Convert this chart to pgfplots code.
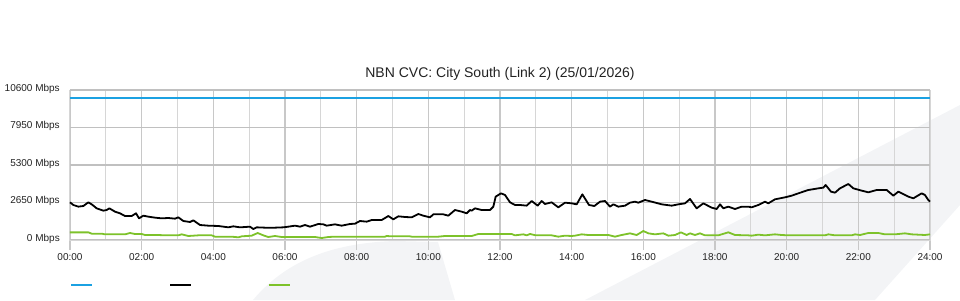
\documentclass[border=0pt]{standalone}
\usepackage{fontspec}
\setmainfont{Liberation Sans}
\usepackage{pgfplots}
\pgfplotsset{compat=1.18}
\definecolor{cblue}{RGB}{27,161,226}
\definecolor{cgreen}{RGB}{125,194,42}
\definecolor{wm}{RGB}{243,244,246}
\definecolor{gridmaj}{RGB}{192,192,192}
\definecolor{gridmid}{RGB}{200,200,200}
\definecolor{gridmin}{RGB}{214,214,214}
\definecolor{txt}{RGB}{34,34,34}
\begin{document}
\begin{tikzpicture}
\path[use as bounding box] (0pt,0pt) rectangle (960pt,300pt);
% background watermark shapes
\begin{scope}[x=1pt,y=1pt]
\fill[wm] (253,0) .. controls (285,38) and (330,57) .. (395,59) -- (438,58) -- (455,0) -- cycle;
\fill[wm] (585,0) -- (960,195) -- (960,95) -- (875,0) -- cycle;
\end{scope}
\begin{axis}[
  at={(70pt,60pt)}, anchor=south west,
  scale only axis, width=860pt, height=150pt,
  xmin=0, xmax=24, ymin=0, ymax=10600,
  scaled y ticks=false,
  axis line style={draw=gridmin, line width=1pt},
  xtick={0,2,...,24},
  xticklabels={00:00,02:00,04:00,06:00,08:00,10:00,12:00,14:00,16:00,18:00,20:00,22:00,24:00},
  minor xtick={1,3,...,23},
  ytick={0,2650,5300,7950},
  yticklabels={0 Mbps,2650 Mbps,5300 Mbps,7950 Mbps},
  extra y ticks={10600},
  extra y tick labels={10600 Mbps},
  extra y tick style={major grid style={draw=gridmin, line width=1pt}, tick style={draw=none}},
  xmajorgrids, xminorgrids, ymajorgrids,
  major x grid style={draw=gridmid, line width=1.1pt},
  minor x grid style={draw=gridmin, line width=0.9pt},
  major y grid style={draw=gridmaj, line width=1.8pt},
  tick align=outside,
  xtick pos=left, ytick pos=left,
  major tick length=10pt,
  minor tick length=0pt,
  xtick style={draw=gridmid, line width=1.1pt},
  ytick style={draw=none},
  tick label style={font=\fontsize{10}{12}\selectfont, text=txt},
  yticklabel style={xshift=3.3pt, yshift=1.5pt},
  title={NBN CVC: City South (Link 2) (25/01/2026)},
  title style={at={(0.5,1)}, anchor=base, yshift=6.5pt, font=\fontsize{14}{16}\selectfont, text=txt},
  legend columns=3,
  legend style={at={(0,0)}, anchor=west, yshift=-45pt, draw=none, fill=none, inner sep=0pt, nodes={inner sep=0pt},
    /tikz/every even column/.append style={column sep=75pt}},
  legend image code/.code={\draw[#1] (0pt,0pt) -- (21pt,0pt);},
  clip=false,
]
\addplot[cblue, line width=2pt] coordinates {(0,10000)(24,10000)};
\addlegendentry{}
\addplot[black, line width=1.8pt, line join=round] coordinates {
(0.000,2662)(0.093,2474)(0.233,2356)(0.372,2403)(0.512,2662)(0.605,2521)(0.744,2238)(0.930,2073)(1.023,2120)(1.098,2238)(1.256,2003)(1.395,1885)(1.535,1696)(1.721,1696)(1.842,1885)(1.926,1531)(2.047,1720)(2.186,1649)(2.372,1579)(2.558,1531)(2.744,1555)(2.930,1508)(3.023,1602)(3.163,1343)(3.349,1272)(3.442,1390)(3.628,1060)(3.860,1013)(4.140,990)(4.419,895)(4.558,966)(4.744,895)
(5.023,942)(5.116,777)(5.209,895)(5.442,872)(5.721,872)(5.953,895)(6.093,942)(6.279,1013)(6.419,942)(6.558,1060)(6.698,942)(6.930,1131)(7.070,1107)(7.163,1013)(7.395,1107)(7.581,1013)(7.814,1131)(7.953,1154)(8.093,1343)(8.279,1296)(8.419,1414)(8.698,1414)(8.884,1696)(9.023,1461)(9.163,1673)(9.349,1626)(9.535,1602)(9.721,1838)(9.860,1720)(10.047,1602)(10.140,1814)(10.419,1814)(10.558,1720)(10.744,2120)(10.930,2003)(11.070,1885)(11.163,2120)(11.209,2073)(11.302,2238)(11.488,2120)(11.721,2120)(11.814,2356)(11.879,3063)(12.028,3298)(12.140,3180)(12.279,2662)(12.419,2474)(12.558,2474)(12.744,2427)(12.884,2756)(13.051,2427)(13.163,2756)(13.256,2544)(13.442,2662)(13.628,2309)(13.814,2638)(14.000,2591)(14.140,2521)(14.298,3228)(14.484,2474)(14.633,2403)(14.791,2709)(14.930,2756)(15.070,2356)(15.163,2521)(15.302,2356)(15.488,2427)(15.628,2638)(15.767,2709)(15.860,2638)(16.047,2827)(16.233,2709)(16.512,2521)(16.791,2427)(16.977,2521)(17.163,2591)(17.302,2898)(17.488,2238)(17.674,2591)(17.907,2285)(18.047,2191)(18.140,2521)(18.233,2238)(18.372,2356)(18.558,2191)(18.744,2356)(18.930,2356)(19.023,2309)(19.209,2474)(19.395,2709)(19.488,2591)(19.674,2874)(19.953,3016)(20.140,3133)(20.326,3298)(20.605,3534)(20.884,3652)(21.023,3699)(21.088,3887)(21.237,3416)(21.349,3346)(21.488,3652)(21.721,3958)(21.860,3652)(22.093,3487)(22.279,3369)(22.512,3534)(22.791,3534)(22.977,3133)(23.116,3416)(23.395,3063)(23.535,2945)(23.767,3298)(23.860,3180)(23.953,2827)(24.0,2709)
};
\addlegendentry{}
\addplot[cgreen, line width=1.8pt, line join=round] coordinates {
(0.000,540)(0.512,540)(0.605,448)(0.884,448)(0.977,400)(1.535,400)(1.674,495)(1.814,424)(2.000,424)(2.093,353)(2.465,353)(2.651,330)(3.023,330)(3.116,400)(3.302,283)(3.581,330)(3.953,330)(4.047,236)(4.512,236)(4.698,188)
(4.791,259)(5.070,306)(5.237,495)(5.395,330)(5.535,212)(5.721,283)(5.907,212)(6.837,212)(7.023,141)(7.209,212)(7.395,236)(8.791,236)(8.837,283)(8.977,259)(9.488,259)
(9.535,236)(10.279,236)(10.465,283)(11.209,283)(11.395,424)(12.326,424)(12.419,330)(12.651,400)(12.744,330)(12.837,424)(13.000,330)(13.442,330)(13.628,236)(13.814,306)(14.000,283)(14.093,306)(14.279,400)(14.465,353)(15.023,353)(15.209,236)(15.395,353)(15.628,471)(15.814,353)(16.000,636)(16.140,471)(16.326,400)(16.558,471)(16.698,306)(16.884,353)(17.051,542)(17.209,353)(17.302,471)(17.442,353)(17.581,471)(17.721,330)(18.093,330)(18.372,542)(18.558,353)(18.930,330)
(19.023,306)(19.209,377)(19.395,330)(19.674,400)(19.860,353)(20.047,330)(21.070,330)(21.163,400)(21.349,330)(21.814,330)(21.907,400)(22.047,353)(22.279,495)(22.558,495)(22.744,400)(23.023,400)(23.302,471)(23.488,400)(23.860,353)(24.0,400)
};
\addlegendentry{}
\end{axis}
\end{tikzpicture}
\end{document}
